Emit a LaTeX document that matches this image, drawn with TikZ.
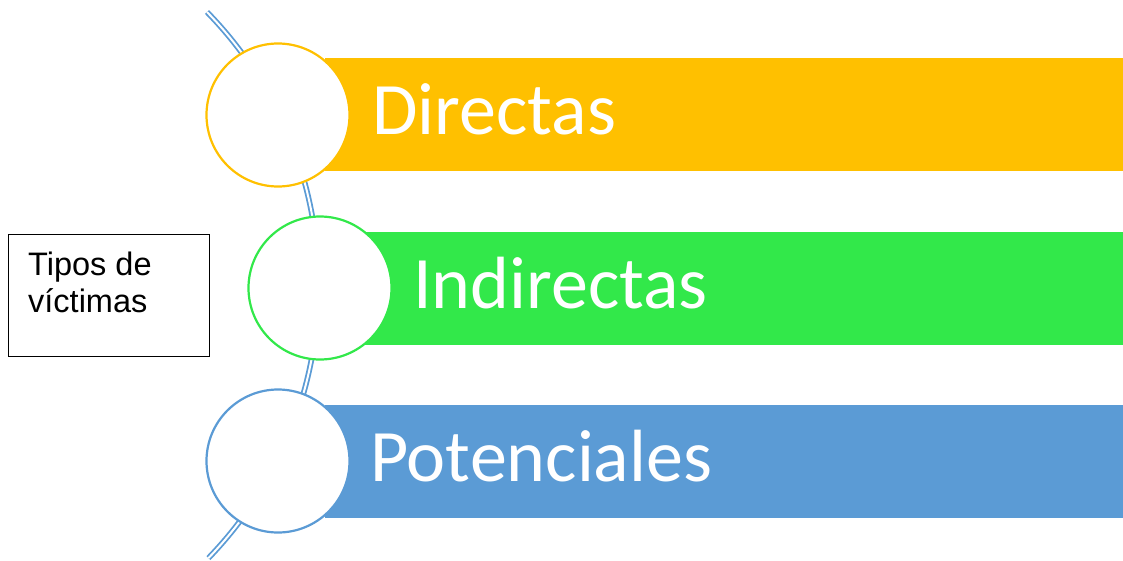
\documentclass[tikz,border=0pt]{standalone}
\usepackage{fontspec}
\setmainfont{Carlito}
\newfontfamily\arialfont{Liberation Sans}
\definecolor{cyel}{HTML}{FFC000}
\definecolor{cgrn}{HTML}{32E84A}
\definecolor{cblu}{HTML}{5B9BD5}
\begin{document}
\begin{tikzpicture}[x=1pt,y=-1pt,
  bar/.style={draw=none,fill=#1},
  ring/.style={draw=#1,line width=2.2pt,fill=white,circle,minimum size=143pt,inner sep=0pt},
  lbl/.style={text=white,font=\fontsize{74}{86}\selectfont,anchor=base west,inner sep=0pt},
  spine/.style={draw=cblu,double=white,line width=1.8pt,double distance=2pt}]
\useasboundingbox (0,0) rectangle (1123,560);
% spine arc
\coordinate (s0) at (207,12);
\draw[spine] (s0) arc[start angle=44.3,end angle=-44,radius=392pt] coordinate (s1);
% bars
\fill[cyel] (325,58) rectangle (1123,171);
\fill[cgrn] (365,232) rectangle (1123,345);
\fill[cblu] (325,405) rectangle (1123,518);
% circles
\node[ring=cyel] (c1) at (278,115) {};
\node[ring=cgrn] (c2) at (320,288) {};
\node[ring=cblu] (c3) at (278,461) {};
% labels
\node[lbl] (t1) at (372,134) {Directas};
\node[lbl] (t2) at (413,308) {Indirectas};
\node[lbl] (t3) at (370,481) {Potenciales};
% title box
\node[draw=black,line width=1pt,anchor=north west,minimum width=201pt,minimum height=122pt,inner sep=0pt] (box) at (8,234) {};
\node[anchor=north west,align=left,inner sep=0pt,font=\arialfont\fontsize{32.5}{37}\selectfont] (title) at (28,252) {Tipos de\\víctimas};
\end{tikzpicture}
\end{document}
